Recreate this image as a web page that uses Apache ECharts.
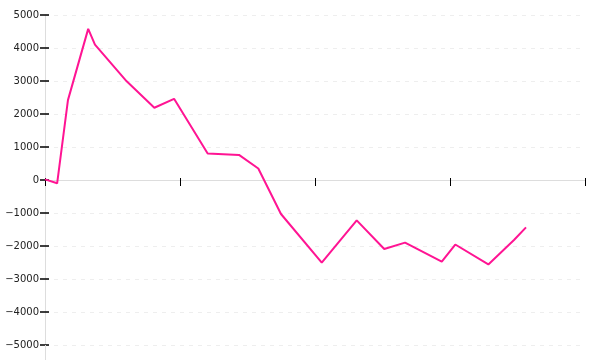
<!DOCTYPE html>
<html>
<head>
<meta charset="utf-8">
<script src="https://cdn.jsdelivr.net/npm/echarts@6/dist/echarts.min.js"></script>
<style>
html,body{margin:0;padding:0;background:#fff;}
#chart{width:600px;height:360px;}
</style>
</head>
<body>
<div id="chart"></div>
<script>
var xValues = [0, 9, 17, 32, 37, 60.5, 81, 95.6, 120.5, 143.7, 158, 174.8, 205, 230.9, 251.3, 266.7, 293.9, 303.9, 328.4, 347.4, 356.3];
var yValues = [20, -100, 2420, 4580, 4100, 2990, 2190, 2460, 800, 760, 350, -1030, -2505, -1222, -2091, -1899, -2475, -1955, -2560, -1820, -1434];
var yMin = -5000, yMax = 5000, yStep = 1000;

var points = xValues.map(function (x, i) { return [x, yValues[i]]; });

var chart = echarts.init(document.getElementById('chart'), null, {renderer: 'canvas'});
chart.setOption({
  animation: false,
  grid: {left: 45, right: 15, top: 15, bottom: 15, containLabel: false},
  xAxis: [{
    type: 'value', min: 0, max: 400, interval: 100,
    axisLine: {onZero: true, lineStyle: {color: '#ddd', width: 1}},
    axisTick: {show: true, length: 6, lineStyle: {color: '#000'}},
    axisLabel: {show: false},
    splitLine: {show: false}
  }, {
    type: 'value', min: 0, max: 400, interval: 100, position: 'bottom',
    axisLine: {show: false, onZero: true},
    axisTick: {show: true, inside: true, length: 2, lineStyle: {color: '#000'}},
    axisLabel: {show: false},
    splitLine: {show: false}
  }],
  yAxis: [{
    type: 'value', min: yMin, max: yMax, interval: yStep,
    axisLine: {show: true, onZero: false, lineStyle: {color: '#ddd', width: 1}},
    axisTick: {show: true, length: 5, lineStyle: {color: '#000', width: 1.5}},
    axisLabel: {margin: 6, color: '#222', fontFamily: 'DejaVu Sans', fontSize: 10,
      formatter: function (v) { return v < 0 ? '\u2212' + Math.abs(v) : String(v); }},
    splitLine: {show: true, lineStyle: {color: '#eee', type: [4, 5], width: 1}}
  }, {
    type: 'value', min: yMin, max: yMax, interval: yStep, position: 'left',
    axisLine: {show: false, onZero: false},
    axisTick: {show: true, inside: true, length: 4, lineStyle: {color: '#000', width: 1.5}},
    axisLabel: {show: false},
    splitLine: {show: false}
  }],
  series: [{
    type: 'line',
    data: points,
    showSymbol: false,
    symbol: 'none',
    lineStyle: {color: '#ff1493', width: 2},
    z: 5
  }]
});
// extend the y axis line to the bottom edge, as in the reference
var bottomPt = chart.convertToPixel({xAxisIndex: 0, yAxisIndex: 0}, [0, yMin]);
chart.setOption({
  graphic: [{
    type: 'line', silent: true, z: 1,
    shape: {x1: bottomPt[0] + 0.5, y1: bottomPt[1], x2: bottomPt[0] + 0.5, y2: 360},
    style: {stroke: '#ddd', lineWidth: 1}
  }]
});
</script>
</body>
</html>
